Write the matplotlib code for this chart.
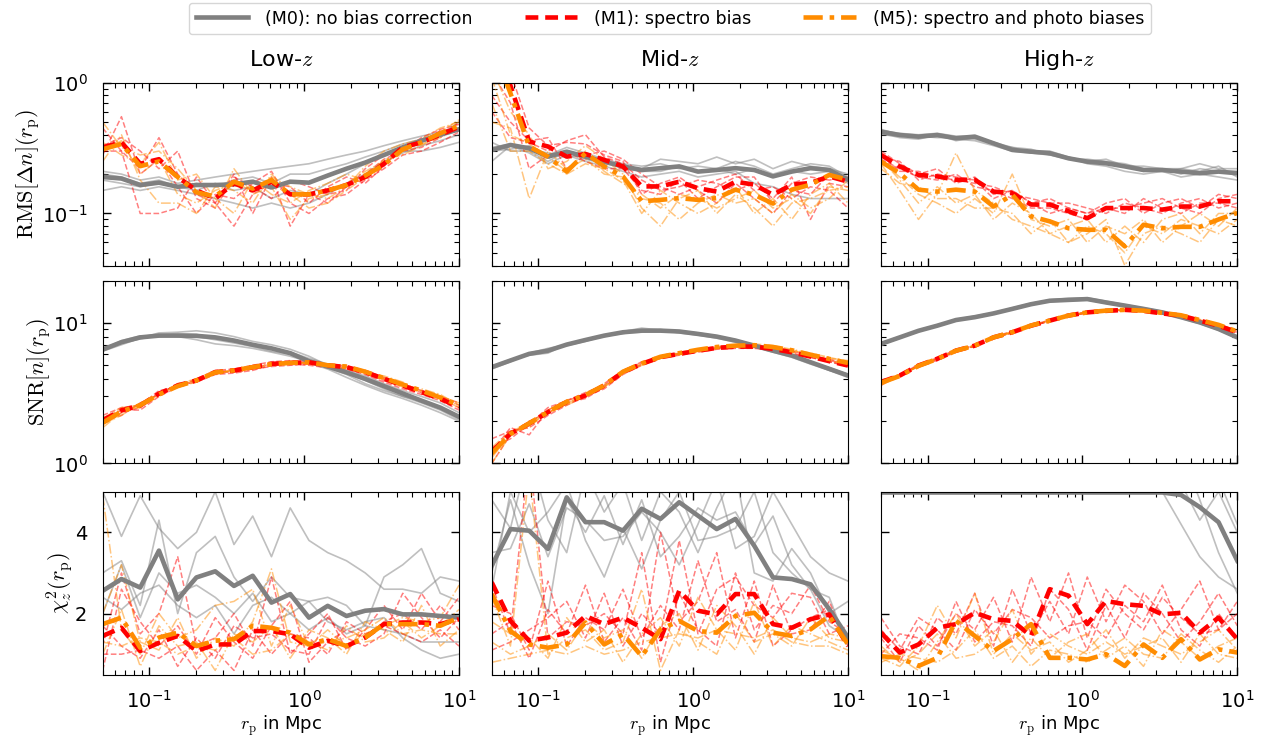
import matplotlib
matplotlib.use('Agg')
import matplotlib.pyplot as plt
from matplotlib.ticker import NullFormatter
from matplotlib.lines import Line2D

plt.rcParams['mathtext.fontset'] = 'cm'
plt.rcParams['font.family'] = ['DejaVu Sans']

# ---------------- data ----------------
rp = [0.05, 0.06608, 0.08733, 0.11542, 0.15254, 0.20160, 0.26644, 0.35213, 0.46538, 0.61505,
      0.81286, 1.0743, 1.4198, 1.8764, 2.4799, 3.2774, 4.3315, 5.7246, 7.5657, 10.0]

col_titles = ['Low-$z$', 'Mid-$z$', 'High-$z$']
row_labels = [r'$\mathrm{RMS}[\Delta n](r_\mathrm{p})$', r'$\mathrm{SNR}[n](r_\mathrm{p})$',
              r'$\chi^2_z(r_\mathrm{p})$']
legend_labels = ['(M0): no bias correction', '(M1): spectro bias', '(M5): spectro and photo biases']

# RMS, Low-z
rms_low_m0 = [0.19, 0.185, 0.165, 0.172, 0.16, 0.165, 0.165, 0.167, 0.175, 0.158, 0.175, 0.172, 0.195, 0.22, 0.245, 0.28, 0.32, 0.36, 0.40, 0.44]
rms_low_m1 = [0.32, 0.35, 0.24, 0.26, 0.19, 0.15, 0.13, 0.17, 0.15, 0.175, 0.14, 0.14, 0.15, 0.165, 0.19, 0.24, 0.32, 0.35, 0.40, 0.46]
rms_low_m5 = [0.31, 0.34, 0.23, 0.25, 0.19, 0.145, 0.135, 0.175, 0.155, 0.18, 0.14, 0.14, 0.15, 0.165, 0.195, 0.235, 0.31, 0.35, 0.41, 0.47]
rms_low_m0_thin = [
    [0.21, 0.20, 0.18, 0.19, 0.17, 0.18, 0.19, 0.20, 0.21, 0.22, 0.23, 0.24, 0.26, 0.28, 0.30, 0.33, 0.36, 0.39, 0.42, 0.45],
    [0.15, 0.16, 0.15, 0.16, 0.15, 0.14, 0.13, 0.12, 0.11, 0.12, 0.11, 0.12, 0.14, 0.17, 0.20, 0.25, 0.29, 0.33, 0.36, 0.40],
    [0.18, 0.17, 0.16, 0.17, 0.16, 0.15, 0.17, 0.15, 0.16, 0.13, 0.15, 0.14, 0.17, 0.20, 0.24, 0.28, 0.30, 0.30, 0.32, 0.35],
    [0.20, 0.19, 0.17, 0.18, 0.16, 0.17, 0.16, 0.18, 0.19, 0.17, 0.20, 0.20, 0.22, 0.24, 0.27, 0.30, 0.34, 0.37, 0.40, 0.50]]
rms_low_m1_thin = [
    [0.45, 0.30, 0.22, 0.38, 0.20, 0.14, 0.12, 0.20, 0.10, 0.19, 0.08, 0.14, 0.12, 0.16, 0.20, 0.26, 0.30, 0.32, 0.38, 0.50],
    [0.28, 0.55, 0.20, 0.26, 0.16, 0.10, 0.14, 0.13, 0.17, 0.21, 0.12, 0.10, 0.13, 0.14, 0.18, 0.22, 0.28, 0.30, 0.35, 0.42],
    [0.30, 0.30, 0.10, 0.10, 0.11, 0.19, 0.12, 0.08, 0.14, 0.17, 0.16, 0.12, 0.16, 0.19, 0.17, 0.23, 0.33, 0.35, 0.43, 0.45],
    [0.33, 0.38, 0.30, 0.22, 0.30, 0.13, 0.11, 0.19, 0.16, 0.13, 0.18, 0.16, 0.14, 0.15, 0.22, 0.28, 0.30, 0.38, 0.44, 0.48]]
rms_low_m5_thin = [
    [0.50, 0.32, 0.28, 0.30, 0.22, 0.15, 0.11, 0.22, 0.14, 0.16, 0.09, 0.13, 0.14, 0.17, 0.21, 0.25, 0.32, 0.36, 0.42, 0.52],
    [0.25, 0.40, 0.18, 0.12, 0.12, 0.10, 0.16, 0.15, 0.12, 0.20, 0.14, 0.11, 0.12, 0.15, 0.19, 0.24, 0.30, 0.34, 0.38, 0.45],
    [0.35, 0.28, 0.24, 0.35, 0.18, 0.20, 0.13, 0.10, 0.18, 0.14, 0.12, 0.15, 0.17, 0.20, 0.18, 0.26, 0.28, 0.33, 0.40, 0.43],
    [0.30, 0.36, 0.20, 0.26, 0.14, 0.12, 0.15, 0.17, 0.15, 0.19, 0.16, 0.14, 0.13, 0.16, 0.23, 0.30, 0.34, 0.37, 0.45, 0.50]]

# RMS, Mid-z
rms_mid_m0 = [0.306, 0.334, 0.315, 0.272, 0.297, 0.272, 0.249, 0.229, 0.215, 0.222, 0.229, 0.209, 0.215, 0.222, 0.215, 0.192, 0.209, 0.222, 0.215, 0.181]
rms_mid_m1 = [2.0, 0.95, 0.355, 0.325, 0.272, 0.285, 0.257, 0.229, 0.161, 0.161, 0.175, 0.156, 0.147, 0.175, 0.166, 0.139, 0.166, 0.171, 0.192, 0.175]
rms_mid_m5 = [2.0, 0.83, 0.325, 0.272, 0.209, 0.289, 0.229, 0.192, 0.124, 0.127, 0.131, 0.127, 0.131, 0.152, 0.139, 0.119, 0.152, 0.166, 0.197, 0.181]
rms_mid_m0_thin = [
    [0.35, 0.30, 0.30, 0.25, 0.30, 0.26, 0.24, 0.23, 0.22, 0.26, 0.25, 0.24, 0.27, 0.24, 0.26, 0.22, 0.25, 0.23, 0.22, 0.20],
    [0.25, 0.33, 0.29, 0.24, 0.28, 0.25, 0.23, 0.21, 0.19, 0.20, 0.21, 0.19, 0.20, 0.21, 0.17, 0.16, 0.14, 0.13, 0.13, 0.13],
    [0.30, 0.31, 0.33, 0.28, 0.32, 0.29, 0.26, 0.24, 0.23, 0.24, 0.22, 0.23, 0.22, 0.25, 0.23, 0.20, 0.22, 0.24, 0.23, 0.19],
    [0.32, 0.34, 0.31, 0.29, 0.27, 0.28, 0.25, 0.22, 0.21, 0.21, 0.23, 0.21, 0.22, 0.20, 0.22, 0.19, 0.21, 0.20, 0.21, 0.17]]
rms_mid_m1_thin = [
    [1.5, 1.2, 0.45, 0.33, 0.35, 0.34, 0.28, 0.25, 0.14, 0.17, 0.19, 0.15, 0.12, 0.17, 0.13, 0.10, 0.15, 0.14, 0.20, 0.18],
    [0.60, 0.38, 0.35, 0.30, 0.36, 0.40, 0.27, 0.24, 0.18, 0.15, 0.16, 0.18, 0.17, 0.15, 0.17, 0.13, 0.19, 0.09, 0.17, 0.16],
    [0.80, 0.50, 0.36, 0.38, 0.22, 0.28, 0.30, 0.26, 0.20, 0.16, 0.14, 0.16, 0.18, 0.20, 0.15, 0.16, 0.13, 0.16, 0.15, 0.11],
    [1.2, 0.70, 0.22, 0.28, 0.30, 0.25, 0.22, 0.22, 0.15, 0.14, 0.18, 0.13, 0.16, 0.19, 0.19, 0.12, 0.17, 0.19, 0.18, 0.19]]
rms_mid_m5_thin = [
    [1.3, 0.60, 0.40, 0.22, 0.25, 0.33, 0.26, 0.20, 0.11, 0.08, 0.13, 0.15, 0.10, 0.14, 0.11, 0.08, 0.12, 0.13, 0.15, 0.16],
    [0.50, 0.45, 0.13, 0.30, 0.22, 0.26, 0.20, 0.19, 0.13, 0.12, 0.09, 0.12, 0.14, 0.12, 0.13, 0.10, 0.14, 0.11, 0.13, 0.18],
    [0.70, 0.30, 0.30, 0.24, 0.20, 0.24, 0.22, 0.18, 0.10, 0.15, 0.12, 0.10, 0.12, 0.16, 0.10, 0.13, 0.09, 0.14, 0.17, 0.12],
    [1.1, 0.40, 0.34, 0.27, 0.21, 0.30, 0.21, 0.17, 0.14, 0.11, 0.14, 0.13, 0.11, 0.13, 0.15, 0.11, 0.13, 0.10, 0.16, 0.15]]

# RMS, High-z
rms_high_m0 = [0.422, 0.398, 0.387, 0.398, 0.376, 0.387, 0.344, 0.306, 0.297, 0.289, 0.264, 0.249, 0.242, 0.229, 0.215, 0.215, 0.209, 0.203, 0.209, 0.203]
rms_high_m1 = [0.280, 0.229, 0.197, 0.192, 0.181, 0.181, 0.147, 0.143, 0.117, 0.117, 0.104, 0.092, 0.110, 0.110, 0.110, 0.107, 0.113, 0.113, 0.124, 0.124]
rms_high_m5 = [0.249, 0.203, 0.152, 0.147, 0.152, 0.147, 0.113, 0.139, 0.095, 0.087, 0.077, 0.075, 0.075, 0.056, 0.082, 0.077, 0.079, 0.079, 0.090, 0.101]
rms_high_m0_thin = [
    [0.44, 0.40, 0.38, 0.39, 0.37, 0.36, 0.33, 0.30, 0.29, 0.28, 0.26, 0.25, 0.24, 0.23, 0.23, 0.22, 0.22, 0.24, 0.22, 0.22],
    [0.41, 0.38, 0.37, 0.40, 0.36, 0.38, 0.35, 0.31, 0.30, 0.30, 0.27, 0.24, 0.23, 0.21, 0.20, 0.21, 0.19, 0.20, 0.19, 0.18],
    [0.40, 0.39, 0.39, 0.38, 0.38, 0.37, 0.34, 0.32, 0.29, 0.29, 0.26, 0.26, 0.25, 0.24, 0.22, 0.21, 0.22, 0.21, 0.23, 0.19],
    [0.43, 0.41, 0.40, 0.41, 0.39, 0.39, 0.35, 0.32, 0.31, 0.28, 0.27, 0.25, 0.26, 0.23, 0.21, 0.22, 0.20, 0.22, 0.21, 0.21]]
rms_high_m1_thin = [
    [0.30, 0.24, 0.20, 0.22, 0.17, 0.19, 0.14, 0.15, 0.12, 0.13, 0.11, 0.10, 0.12, 0.13, 0.10, 0.12, 0.13, 0.11, 0.14, 0.13],
    [0.26, 0.22, 0.19, 0.18, 0.20, 0.16, 0.15, 0.13, 0.11, 0.11, 0.10, 0.09, 0.11, 0.10, 0.13, 0.11, 0.10, 0.12, 0.12, 0.11],
    [0.28, 0.21, 0.21, 0.19, 0.18, 0.17, 0.16, 0.14, 0.13, 0.12, 0.12, 0.11, 0.10, 0.12, 0.11, 0.10, 0.12, 0.13, 0.11, 0.12],
    [0.27, 0.25, 0.18, 0.20, 0.19, 0.18, 0.13, 0.15, 0.12, 0.10, 0.11, 0.10, 0.11, 0.11, 0.12, 0.13, 0.11, 0.10, 0.13, 0.14]]
rms_high_m5_thin = [
    [0.24, 0.15, 0.09, 0.14, 0.29, 0.15, 0.12, 0.09, 0.08, 0.07, 0.06, 0.08, 0.07, 0.05, 0.08, 0.07, 0.09, 0.08, 0.07, 0.09],
    [0.25, 0.19, 0.14, 0.12, 0.10, 0.13, 0.10, 0.20, 0.09, 0.08, 0.09, 0.06, 0.08, 0.07, 0.09, 0.06, 0.08, 0.10, 0.08, 0.11],
    [0.22, 0.17, 0.16, 0.13, 0.13, 0.11, 0.11, 0.10, 0.07, 0.09, 0.06, 0.07, 0.09, 0.04, 0.07, 0.08, 0.07, 0.06, 0.09, 0.08],
    [0.26, 0.18, 0.12, 0.16, 0.12, 0.14, 0.09, 0.12, 0.10, 0.07, 0.08, 0.09, 0.06, 0.08, 0.06, 0.09, 0.10, 0.07, 0.10, 0.10]]

# SNR, Low-z
snr_low_m0 = [6.47, 7.3, 7.9, 8.13, 8.13, 8.1, 7.9, 7.5, 7.0, 6.6, 6.1, 5.35, 4.9, 4.45, 4.0, 3.55, 3.15, 2.8, 2.5, 2.15]
snr_low_m1 = [2.03, 2.39, 2.59, 3.14, 3.59, 3.9, 4.47, 4.59, 4.85, 5.12, 5.2, 5.25, 5.0, 4.85, 4.47, 4.01, 3.59, 3.22, 2.89, 2.52]
snr_low_m5 = [1.95, 2.35, 2.6, 3.1, 3.55, 3.9, 4.45, 4.6, 4.85, 5.1, 5.2, 5.25, 5.0, 4.9, 4.5, 4.05, 3.65, 3.3, 2.95, 2.6]
snr_low_m0_thin = [
    [6.3, 7.0, 7.8, 8.5, 8.6, 8.8, 8.5, 8.0, 7.4, 7.0, 6.5, 5.8, 5.0, 4.4, 3.9, 3.4, 3.0, 2.7, 2.4, 2.05],
    [6.5, 7.5, 8.1, 8.0, 8.2, 8.0, 7.6, 7.2, 6.8, 6.3, 6.0, 5.2, 4.7, 4.1, 3.6, 3.2, 2.9, 2.6, 2.3, 2.0],
    [6.7, 7.2, 7.7, 8.2, 8.0, 7.6, 7.1, 6.9, 6.6, 6.2, 5.8, 5.3, 4.8, 4.3, 3.7, 3.3, 3.0, 2.8, 2.5, 2.1],
    [6.4, 7.4, 8.0, 8.3, 8.4, 8.3, 7.8, 7.4, 7.0, 6.6, 6.2, 5.6, 5.1, 4.6, 4.2, 3.7, 3.3, 3.0, 2.7, 2.3]]
snr_low_m1_thin = [
    [1.9, 2.3, 2.5, 3.2, 3.6, 3.8, 4.3, 4.4, 4.6, 5.0, 5.1, 5.0, 4.8, 4.7, 4.3, 3.8, 3.4, 3.1, 2.8, 2.4],
    [2.1, 2.4, 2.4, 3.0, 3.5, 4.0, 4.6, 4.7, 5.0, 5.3, 5.4, 5.3, 5.1, 4.9, 4.6, 4.1, 3.7, 3.3, 3.0, 2.6],
    [2.0, 2.2, 2.7, 3.1, 3.7, 3.9, 4.5, 4.6, 4.8, 5.1, 5.2, 5.2, 4.9, 4.8, 4.5, 4.0, 3.5, 3.2, 2.9, 2.5],
    [2.2, 2.5, 2.6, 3.3, 3.5, 3.9, 4.4, 4.5, 4.7, 4.9, 5.0, 5.1, 5.0, 4.9, 4.4, 3.9, 3.6, 3.3, 3.0, 2.7]]
snr_low_m5_thin = [
    [1.8, 2.3, 2.6, 3.1, 3.6, 3.9, 4.4, 4.6, 4.8, 5.1, 5.2, 5.2, 5.0, 4.9, 4.5, 4.1, 3.7, 3.3, 3.0, 2.7],
    [2.0, 2.4, 2.5, 3.2, 3.5, 3.8, 4.5, 4.5, 4.7, 5.0, 5.3, 5.1, 4.9, 4.8, 4.6, 4.0, 3.6, 3.4, 3.1, 2.6],
    [1.9, 2.2, 2.7, 3.0, 3.7, 4.0, 4.3, 4.7, 4.9, 5.2, 5.1, 5.3, 5.1, 5.0, 4.4, 4.2, 3.8, 3.2, 2.9, 2.5],
    [2.1, 2.5, 2.6, 3.1, 3.6, 3.9, 4.4, 4.6, 4.8, 5.0, 5.2, 5.2, 5.0, 4.7, 4.5, 4.0, 3.5, 3.3, 2.9, 2.6]]

# SNR, Mid-z
snr_mid_m0 = [4.85, 5.41, 6.03, 6.35, 7.02, 7.57, 8.13, 8.59, 8.82, 8.82, 8.7, 8.36, 8.0, 7.5, 6.9, 6.35, 5.87, 5.26, 4.72, 4.23]
snr_mid_m1 = [1.21, 1.63, 1.92, 2.32, 2.74, 3.05, 3.59, 4.47, 5.12, 5.71, 6.03, 6.35, 6.65, 6.79, 6.79, 6.54, 6.19, 5.77, 5.35, 4.98]
snr_mid_m5 = [1.18, 1.62, 1.93, 2.33, 2.75, 3.07, 3.6, 4.5, 5.15, 5.75, 6.1, 6.45, 6.75, 6.9, 6.95, 6.75, 6.4, 5.95, 5.55, 5.2]
snr_mid_m0_thin = [
    [4.7, 5.3, 6.1, 6.6, 7.0, 7.5, 8.0, 8.7, 9.2, 8.9, 8.5, 8.2, 7.8, 7.3, 6.8, 6.2, 5.7, 5.1, 4.6, 4.1],
    [4.9, 5.5, 5.9, 6.1, 7.1, 7.6, 8.2, 8.5, 8.6, 8.8, 8.8, 8.5, 8.1, 7.6, 7.0, 6.4, 5.9, 5.3, 4.8, 4.3],
    [4.8, 5.4, 6.0, 6.5, 6.9, 7.4, 8.1, 8.4, 8.9, 9.0, 8.6, 8.3, 7.9, 7.4, 6.8, 6.3, 5.8, 5.2, 4.6, 4.2],
    [4.9, 5.4, 6.1, 6.3, 7.0, 7.6, 8.2, 8.6, 8.8, 8.7, 8.7, 8.4, 8.0, 7.5, 6.9, 6.3, 5.9, 5.3, 4.8, 4.3]]
snr_mid_m1_thin = [
    [1.5, 1.7, 1.8, 2.2, 2.6, 3.0, 3.4, 4.3, 5.0, 5.6, 5.9, 6.2, 6.5, 6.6, 6.6, 6.4, 6.0, 5.7, 5.3, 4.9],
    [1.2, 1.8, 1.6, 2.4, 2.8, 3.1, 3.7, 4.6, 5.2, 5.8, 6.1, 6.4, 6.7, 6.9, 6.8, 6.6, 6.3, 5.8, 5.4, 5.1],
    [1.0, 1.6, 2.0, 2.3, 2.7, 2.9, 3.5, 4.4, 5.1, 5.7, 6.0, 6.3, 6.6, 6.7, 6.7, 6.5, 6.1, 5.7, 5.3, 5.0],
    [1.3, 1.5, 1.9, 2.5, 2.8, 3.2, 3.6, 4.5, 5.3, 5.6, 6.1, 6.4, 6.6, 6.8, 6.9, 6.7, 6.3, 5.9, 5.5, 5.2]]
snr_mid_m5_thin = [
    [1.1, 1.6, 1.9, 2.3, 2.7, 3.0, 3.6, 4.5, 5.1, 5.7, 6.1, 6.4, 6.7, 7.0, 7.1, 6.9, 6.5, 6.1, 5.7, 5.3],
    [1.3, 1.7, 1.8, 2.4, 2.8, 3.1, 3.5, 4.4, 5.2, 5.8, 6.0, 6.3, 6.6, 6.8, 6.9, 6.7, 6.4, 5.9, 5.5, 5.1],
    [1.0, 1.6, 2.0, 2.3, 2.6, 3.0, 3.7, 4.6, 5.0, 5.6, 6.2, 6.5, 6.8, 6.9, 7.0, 6.8, 6.4, 6.0, 5.6, 5.4],
    [1.2, 1.7, 1.9, 2.3, 2.7, 3.1, 3.5, 4.5, 5.2, 5.7, 6.0, 6.3, 6.6, 6.8, 6.8, 6.6, 6.2, 5.8, 5.4, 5.0]]

# SNR, High-z
snr_high_m0 = [7.1, 7.9, 8.8, 9.57, 10.5, 11.0, 11.7, 12.6, 13.6, 14.4, 14.6, 14.8, 14.0, 13.3, 12.6, 11.9, 11.0, 10.1, 9.06, 7.9]
snr_high_m1 = [3.8, 4.23, 4.98, 5.56, 6.36, 6.9, 7.9, 8.59, 9.57, 10.4, 11.3, 11.9, 12.2, 12.4, 12.2, 11.7, 11.3, 10.4, 9.57, 8.59]
snr_high_m5 = [3.75, 4.2, 4.95, 5.55, 6.35, 6.9, 7.9, 8.6, 9.6, 10.4, 11.3, 11.9, 12.25, 12.4, 12.25, 11.8, 11.35, 10.5, 9.7, 8.7]
snr_high_m0_thin = [
    [7.0, 7.8, 8.9, 9.7, 10.6, 11.2, 11.8, 12.8, 13.8, 14.6, 15.0, 15.1, 14.3, 13.5, 12.8, 12.1, 11.2, 10.3, 9.2, 8.0],
    [7.2, 8.0, 8.7, 9.5, 10.4, 10.9, 11.6, 12.5, 13.5, 14.2, 14.4, 14.6, 13.8, 13.1, 12.4, 11.7, 10.8, 9.9, 8.9, 7.8],
    [7.1, 7.9, 8.8, 9.6, 10.5, 11.1, 11.8, 12.7, 13.6, 14.5, 14.8, 15.0, 14.1, 13.3, 12.7, 12.0, 11.0, 10.2, 9.1, 8.1],
    [7.0, 7.8, 8.8, 9.5, 10.5, 11.0, 11.6, 12.6, 13.7, 14.3, 14.5, 14.7, 14.0, 13.4, 12.5, 11.8, 11.1, 10.0, 9.0, 7.9]]
snr_high_m1_thin = [
    [3.7, 4.2, 5.0, 5.4, 6.4, 6.8, 7.8, 8.5, 9.5, 10.3, 11.2, 11.8, 12.1, 12.3, 12.0, 11.6, 11.1, 10.3, 9.4, 8.4],
    [3.9, 4.3, 4.9, 5.7, 6.3, 7.0, 8.0, 8.7, 9.6, 10.5, 11.4, 12.0, 12.3, 12.5, 12.3, 11.8, 11.4, 10.5, 9.7, 8.7],
    [3.8, 4.2, 5.1, 5.5, 6.2, 6.9, 7.9, 8.6, 9.4, 10.4, 11.2, 11.8, 12.0, 12.2, 12.1, 11.6, 11.2, 10.4, 9.5, 8.5],
    [3.6, 4.3, 4.9, 5.6, 6.5, 6.8, 7.9, 8.5, 9.6, 10.3, 11.3, 11.9, 12.2, 12.4, 12.2, 11.8, 11.3, 10.2, 9.6, 8.6]]
snr_high_m5_thin = [
    [3.6, 4.2, 5.0, 5.5, 6.4, 6.9, 7.8, 8.6, 9.6, 10.4, 11.3, 11.9, 12.3, 12.5, 12.3, 11.9, 11.4, 10.6, 9.8, 8.8],
    [3.8, 4.3, 4.9, 5.6, 6.3, 6.9, 8.0, 8.6, 9.5, 10.5, 11.3, 11.8, 12.2, 12.4, 12.2, 11.7, 11.3, 10.4, 9.7, 8.9],
    [3.9, 4.1, 5.0, 5.5, 6.4, 7.0, 7.9, 8.7, 9.6, 10.3, 11.4, 12.0, 12.3, 12.3, 12.3, 11.9, 11.5, 10.6, 9.6, 8.7],
    [3.7, 4.2, 4.9, 5.6, 6.3, 6.8, 7.9, 8.5, 9.7, 10.4, 11.2, 11.9, 12.2, 12.5, 12.2, 11.8, 11.3, 10.5, 9.8, 8.8]]

# chi2, Low-z
chi_low_m0 = [2.56, 2.85, 2.64, 3.55, 2.35, 2.89, 3.04, 2.68, 2.93, 2.27, 2.48, 1.90, 2.19, 1.94, 2.07, 2.11, 1.98, 1.98, 1.94, 1.90]
chi_low_m1 = [1.45, 1.65, 1.08, 1.28, 1.45, 1.08, 1.24, 1.24, 1.57, 1.57, 1.49, 1.16, 1.33, 1.20, 1.41, 1.74, 1.78, 1.78, 1.74, 1.86]
chi_low_m5 = [1.74, 1.90, 1.16, 1.41, 1.53, 1.20, 1.33, 1.37, 1.70, 1.65, 1.53, 1.24, 1.37, 1.20, 1.41, 1.74, 1.74, 1.74, 1.70, 1.90]
chi_low_m0_thin = [
    [5.0, 3.9, 4.9, 4.1, 3.6, 4.0, 5.0, 3.7, 4.4, 3.4, 4.6, 3.8, 3.5, 3.3, 3.0, 2.6, 2.6, 2.5, 2.9, 2.8],
    [3.0, 3.3, 2.2, 4.3, 2.0, 3.5, 3.9, 2.9, 2.3, 2.9, 2.4, 2.3, 2.4, 2.2, 1.7, 2.9, 3.2, 3.6, 2.5, 2.3],
    [2.0, 3.2, 1.9, 3.0, 2.5, 2.7, 2.4, 2.0, 2.5, 1.8, 2.0, 1.6, 1.9, 1.5, 1.7, 1.6, 1.5, 1.3, 1.3, 1.3],
    [2.4, 2.1, 2.5, 2.7, 2.2, 1.9, 2.2, 1.5, 2.2, 2.4, 2.0, 2.3, 1.8, 1.6, 1.8, 1.9, 1.4, 1.1, 0.9, 1.0]]
chi_low_m1_thin = [
    [1.2, 3.0, 1.5, 2.0, 3.4, 1.2, 1.4, 2.0, 1.2, 2.9, 1.0, 1.5, 2.0, 1.1, 1.6, 2.2, 1.6, 2.5, 1.8, 2.4],
    [0.6, 2.6, 1.8, 1.2, 1.7, 1.0, 1.9, 1.3, 0.9, 1.7, 2.3, 0.8, 1.3, 1.6, 1.4, 1.8, 2.0, 1.6, 2.2, 1.6],
    [1.7, 1.2, 0.9, 1.6, 0.7, 1.4, 0.9, 1.7, 1.4, 1.5, 1.1, 1.0, 1.9, 1.4, 1.2, 1.5, 2.5, 1.9, 1.4, 1.9],
    [1.0, 1.0, 1.1, 0.9, 1.2, 0.6, 1.1, 0.6, 1.6, 1.0, 1.5, 1.4, 1.0, 1.8, 1.5, 1.7, 1.5, 1.3, 1.6, 1.2]]
chi_low_m5_thin = [
    [4.9, 1.6, 1.0, 2.0, 1.4, 1.6, 2.2, 2.3, 2.6, 1.2, 2.2, 1.2, 1.6, 1.2, 1.5, 1.7, 1.9, 1.8, 1.9, 2.7],
    [2.0, 3.2, 1.3, 1.1, 1.9, 0.9, 1.4, 1.2, 1.8, 3.1, 1.3, 1.2, 1.3, 1.4, 1.6, 1.9, 1.5, 1.6, 1.5, 1.5],
    [1.3, 1.2, 1.4, 1.3, 1.0, 1.2, 1.1, 1.4, 1.0, 1.1, 1.5, 1.3, 1.1, 1.7, 1.3, 1.4, 1.8, 1.4, 1.7, 2.1],
    [1.0, 2.1, 0.7, 1.7, 1.2, 1.3, 0.6, 1.5, 1.3, 1.7, 0.9, 1.6, 1.4, 1.0, 1.8, 1.6, 1.3, 2.2, 1.2, 1.6]]

# chi2, Mid-z
chi_mid_m0 = [3.18, 4.08, 4.04, 3.59, 4.86, 4.25, 4.25, 4.04, 4.58, 4.33, 4.74, 4.41, 4.08, 4.33, 3.67, 2.89, 2.85, 2.72, 2.11, 1.41]
chi_mid_m1 = [2.77, 1.82, 1.33, 1.41, 1.53, 1.94, 1.74, 1.90, 1.65, 1.37, 2.56, 2.07, 1.98, 2.48, 2.48, 1.74, 1.65, 1.86, 1.98, 1.20]
chi_mid_m5 = [2.48, 1.57, 1.24, 1.16, 1.24, 1.78, 1.24, 1.49, 0.95, 1.61, 1.82, 1.57, 1.53, 1.94, 2.02, 1.53, 1.45, 1.61, 1.94, 1.24]
chi_mid_m0_thin = [
    [4.8, 4.1, 6.0, 4.3, 3.5, 5.5, 4.5, 5.2, 3.8, 5.0, 4.5, 3.5, 4.6, 5.5, 3.0, 2.8, 3.6, 3.0, 2.0, 2.3],
    [3.0, 4.8, 3.2, 2.0, 4.8, 4.0, 4.9, 3.7, 4.8, 3.4, 3.9, 4.6, 4.3, 4.5, 3.7, 4.4, 3.2, 2.6, 1.7, 1.4],
    [2.6, 5.0, 4.0, 4.5, 5.2, 3.8, 2.9, 4.1, 3.1, 4.3, 5.0, 3.8, 3.9, 4.1, 5.0, 3.5, 3.0, 2.6, 2.4, 1.2],
    [3.5, 3.6, 4.7, 3.4, 4.6, 4.3, 3.8, 3.9, 4.5, 4.0, 3.2, 4.2, 5.3, 3.6, 3.9, 5.0, 4.2, 3.4, 3.0, 2.8]]
chi_mid_m1_thin = [
    [2.7, 1.5, 6.0, 1.4, 1.8, 1.7, 2.0, 1.5, 3.5, 0.8, 2.5, 1.6, 1.2, 3.0, 1.6, 2.2, 2.0, 2.7, 1.8, 1.5],
    [1.5, 1.8, 0.9, 2.1, 1.5, 2.7, 1.3, 1.9, 1.1, 4.0, 1.8, 2.3, 3.5, 1.4, 2.8, 1.2, 1.6, 1.9, 2.1, 1.3],
    [1.1, 1.3, 1.6, 1.9, 2.3, 1.4, 2.5, 1.2, 2.0, 1.5, 3.8, 1.5, 2.6, 2.9, 2.2, 1.9, 2.5, 2.4, 1.5, 1.7],
    [2.2, 2.0, 1.1, 2.8, 1.2, 1.9, 1.6, 2.6, 1.4, 2.2, 1.6, 3.3, 1.8, 2.1, 1.3, 2.7, 1.5, 1.6, 2.3, 1.2]]
chi_mid_m5_thin = [
    [2.4, 1.2, 5.5, 1.0, 1.4, 1.6, 1.1, 1.3, 2.6, 0.6, 1.6, 1.3, 1.0, 2.0, 1.3, 1.5, 1.2, 1.9, 1.4, 1.3],
    [1.8, 1.5, 1.4, 0.9, 1.9, 1.3, 1.6, 0.8, 1.5, 1.9, 1.2, 2.4, 1.6, 1.1, 2.3, 1.2, 1.7, 1.5, 1.3, 1.1],
    [0.8, 0.9, 1.0, 1.1, 1.0, 1.2, 1.0, 1.1, 1.3, 1.4, 1.5, 1.4, 1.6, 1.5, 1.4, 1.6, 1.3, 1.2, 1.2, 1.0],
    [1.3, 1.0, 1.2, 1.5, 1.1, 1.8, 1.4, 1.6, 0.9, 1.7, 2.0, 1.1, 2.2, 1.7, 1.0, 1.9, 1.4, 1.3, 1.5, 1.4]]

# chi2, High-z
chi_high_m0 = [4.98, 4.98, 4.98, 4.98, 4.98, 4.98, 4.98, 4.98, 4.98, 4.98, 4.98, 4.98, 4.98, 4.98, 4.98, 4.98, 4.92, 4.62, 4.25, 3.3]
chi_high_m1 = [1.53, 1.04, 1.24, 1.65, 1.74, 2.02, 1.86, 1.82, 1.45, 2.60, 2.44, 1.74, 2.31, 2.23, 2.19, 1.98, 2.02, 1.53, 1.90, 1.37]
chi_high_m5 = [0.95, 0.91, 0.71, 0.91, 1.82, 1.45, 1.08, 1.37, 1.74, 0.91, 0.91, 0.87, 1.00, 0.71, 1.24, 0.91, 1.37, 0.87, 1.12, 1.04]
chi_high_m0_thin = [
    [6.0, 6.0, 6.0, 6.0, 6.0, 6.0, 6.0, 6.0, 6.0, 6.0, 6.0, 6.0, 6.0, 6.0, 6.0, 5.0, 4.2, 3.4, 2.9, 2.6],
    [6.0, 6.0, 6.0, 6.0, 6.0, 6.0, 6.0, 6.0, 6.0, 6.0, 6.0, 6.0, 6.0, 6.0, 6.0, 6.0, 5.2, 4.3, 5.0, 4.0],
    [6.0, 6.0, 6.0, 6.0, 6.0, 6.0, 6.0, 6.0, 6.0, 6.0, 6.0, 6.0, 6.0, 6.0, 6.0, 6.0, 6.0, 4.8, 3.5, 2.5],
    [6.0, 6.0, 6.0, 6.0, 6.0, 6.0, 6.0, 6.0, 6.0, 6.0, 6.0, 6.0, 6.0, 6.0, 6.0, 6.0, 6.0, 6.0, 5.3, 4.2]]
chi_high_m1_thin = [
    [1.4, 0.8, 1.7, 1.2, 2.0, 1.6, 2.4, 1.3, 2.9, 1.8, 3.0, 1.4, 2.6, 2.0, 1.6, 2.4, 1.9, 1.5, 1.6, 2.0],
    [1.9, 1.2, 1.0, 1.9, 1.5, 2.5, 1.2, 2.6, 1.5, 2.3, 1.5, 2.9, 1.8, 2.7, 2.3, 1.5, 2.1, 2.8, 1.6, 2.3],
    [1.0, 1.5, 1.4, 1.1, 2.3, 1.3, 1.8, 1.7, 1.2, 2.6, 2.1, 1.1, 2.2, 1.4, 2.5, 2.0, 1.3, 1.8, 2.5, 1.7],
    [1.6, 1.1, 1.9, 1.6, 1.1, 2.1, 1.5, 2.1, 1.9, 1.4, 1.7, 1.8, 1.4, 2.2, 1.8, 2.7, 1.6, 1.2, 2.0, 1.4]]
chi_high_m5_thin = [
    [0.9, 0.7, 1.2, 2.2, 1.4, 2.5, 1.0, 1.5, 1.1, 1.3, 0.8, 1.1, 1.6, 0.9, 1.4, 1.2, 1.0, 1.3, 1.6, 1.1],
    [1.1, 0.9, 0.6, 1.3, 2.0, 1.2, 1.6, 0.8, 1.4, 0.9, 1.3, 1.5, 0.9, 1.2, 0.7, 1.6, 1.3, 0.9, 1.2, 1.4],
    [0.8, 1.0, 0.9, 0.8, 1.1, 1.6, 0.9, 1.2, 0.7, 1.1, 1.0, 0.8, 1.1, 1.4, 1.0, 0.9, 1.5, 1.1, 0.8, 1.2],
    [1.2, 0.8, 1.0, 1.5, 0.9, 1.0, 1.3, 2.1, 1.0, 1.5, 1.2, 1.0, 1.3, 1.0, 1.2, 1.4, 0.8, 1.5, 1.0, 0.9]]

# ---------------- assemble ----------------
panels = [
    [(rms_low_m0, rms_low_m0_thin, rms_low_m1, rms_low_m1_thin, rms_low_m5, rms_low_m5_thin),
     (rms_mid_m0, rms_mid_m0_thin, rms_mid_m1, rms_mid_m1_thin, rms_mid_m5, rms_mid_m5_thin),
     (rms_high_m0, rms_high_m0_thin, rms_high_m1, rms_high_m1_thin, rms_high_m5, rms_high_m5_thin)],
    [(snr_low_m0, snr_low_m0_thin, snr_low_m1, snr_low_m1_thin, snr_low_m5, snr_low_m5_thin),
     (snr_mid_m0, snr_mid_m0_thin, snr_mid_m1, snr_mid_m1_thin, snr_mid_m5, snr_mid_m5_thin),
     (snr_high_m0, snr_high_m0_thin, snr_high_m1, snr_high_m1_thin, snr_high_m5, snr_high_m5_thin)],
    [(chi_low_m0, chi_low_m0_thin, chi_low_m1, chi_low_m1_thin, chi_low_m5, chi_low_m5_thin),
     (chi_mid_m0, chi_mid_m0_thin, chi_mid_m1, chi_mid_m1_thin, chi_mid_m5, chi_mid_m5_thin),
     (chi_high_m0, chi_high_m0_thin, chi_high_m1, chi_high_m1_thin, chi_high_m5, chi_high_m5_thin)],
]

c_gray = '#808080'
c_red = '#ff0000'
c_orange = '#ff8c00'
thick_lw = 3.3
dash_thick = (0, (2.8, 1.5))
dashdot_thick = (0, (4.2, 1.5, 1.0, 1.5))

W, H = 1265, 744
fig = plt.figure(figsize=(W / 100, H / 100), dpi=100)

col_left = [102.7, 491.7, 881.0]
col_w = 356.3
row_top = [82.7, 280.7, 491.7]
row_h = 182.8

for r in range(3):
    for c in range(3):
        ax = fig.add_axes([col_left[c] / W, 1 - (row_top[r] + row_h) / H, col_w / W, row_h / H])
        m0, m0t, m1, m1t, m5, m5t = panels[r][c]
        for y in m0t:
            ax.plot(rp, y, color=c_gray, lw=1.2, alpha=0.5, ls='-')
        for y in m1t:
            ax.plot(rp, y, color=c_red, lw=1.1, alpha=0.5, ls='--')
        for y in m5t:
            ax.plot(rp, y, color=c_orange, lw=1.1, alpha=0.5, ls='-.')
        ax.plot(rp, m0, color=c_gray, lw=thick_lw, ls='-')
        ax.plot(rp, m1, color=c_red, lw=thick_lw, ls=dash_thick)
        ax.plot(rp, m5, color=c_orange, lw=thick_lw, ls=dashdot_thick)

        ax.set_xscale('log')
        ax.set_xlim(0.05, 10)
        if r == 0:
            ax.set_yscale('log')
            ax.set_ylim(0.04, 1)
        elif r == 1:
            ax.set_yscale('log')
            ax.set_ylim(1, 20)
        else:
            ax.set_ylim(0.5, 5)
            ax.set_yticks([2, 4])
        ax.yaxis.set_minor_formatter(NullFormatter())
        ax.xaxis.set_minor_formatter(NullFormatter())
        ax.tick_params(which='both', direction='in', top=True, right=True, labelsize=14)
        ax.tick_params(which='major', length=6, width=1, pad=11)
        ax.tick_params(which='minor', length=3.5, width=0.8)
        if r < 2:
            ax.tick_params(labelbottom=False)
        else:
            ax.set_xlabel(r'$r_\mathrm{p}$ in Mpc', fontsize=13, labelpad=1)
        if c > 0:
            ax.tick_params(labelleft=False)
        else:
            ax.set_ylabel(row_labels[r], fontsize=16, labelpad=0)
        if r == 0:
            ax.set_title(col_titles[c], fontsize=16, pad=12)

handles = [Line2D([], [], color=c_gray, lw=thick_lw, ls='-'),
           Line2D([], [], color=c_red, lw=thick_lw, ls=dash_thick),
           Line2D([], [], color=c_orange, lw=thick_lw, ls=dashdot_thick)]
fig.legend(handles, legend_labels, loc='upper center', bbox_to_anchor=(0.5296, 1.0),
           borderaxespad=0.15, ncol=3, fontsize=12.5, frameon=True,
           columnspacing=3.0, handlelength=3.0, handletextpad=1.0)

fig.savefig('out.png', dpi=100)
